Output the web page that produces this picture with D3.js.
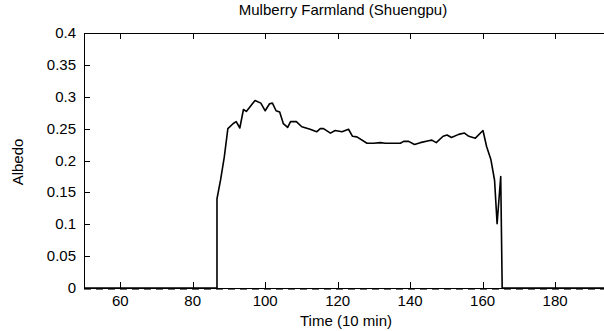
<!DOCTYPE html>
<html>
<head>
<meta charset="utf-8">
<script src="https://cdn.jsdelivr.net/npm/d3@7"></script>
<style>
  body { margin: 0; background: #fff; }
  text { font-family: "Liberation Sans", Arial, sans-serif; fill: #000; }
</style>
</head>
<body>
<svg id="chart" width="604" height="331"></svg>
<script>
// Albedo readings (time in 10 min steps)
const times = [50, 86.7, 86.7, 87.7, 88.7, 89.7, 91.2, 92, 93, 94, 94.8, 96.2, 97.2, 98.8, 100,
  101.2, 102, 103, 104, 105, 106.2, 107, 108.6, 110.1, 112.4, 114.2, 115.2, 116.1, 118, 119.3,
  121.2, 123, 124.1, 125.3, 128.1, 129.9, 131.8, 133.1, 137.3, 138.2, 139.6, 141.2, 142.8,
  145.1, 146, 147.2, 149.1, 150.2, 151.4, 153.4, 155, 156.2, 158, 160.1, 161.1, 162.3, 163.3,
  164, 165, 165.4, 194];
const albedo = [0, 0, 0.14, 0.17, 0.205, 0.25, 0.258, 0.261, 0.251, 0.28, 0.277, 0.287, 0.294, 0.29, 0.278,
  0.289, 0.29, 0.278, 0.276, 0.258, 0.252, 0.261, 0.261, 0.253, 0.249, 0.245, 0.25, 0.25, 0.243, 0.247,
  0.245, 0.249, 0.238, 0.237, 0.227, 0.227, 0.228, 0.227, 0.227, 0.23, 0.23, 0.225, 0.228,
  0.231, 0.232, 0.228, 0.238, 0.24, 0.236, 0.241, 0.243, 0.238, 0.235, 0.247, 0.222, 0.201, 0.169,
  0.101, 0.175, 0, 0];

const xTicks = [60, 80, 100, 120, 140, 160, 180];
const yTicks = [0, 0.05, 0.1, 0.15, 0.2, 0.25, 0.3, 0.35, 0.4];
const yTickLabels = ["0", "0.05", "0.1", "0.15", "0.2", "0.25", "0.3", "0.35", "0.4"];

const data = times.map((t, i) => ({ t: t, v: albedo[i] }));

const plotLeft = 84, plotRight = 604, plotTop = 33, plotBottom = 288;

var xScale = d3.scaleLinear().domain([50, 193.5]).range([plotLeft, plotRight]);
var yScale = d3.scaleLinear().domain([0, 0.4]).range([plotBottom, plotTop]);

const svg = d3.select("#chart");

// frame
svg.append("path")
  .attr("d", `M${plotRight + 1},${plotTop + 0.5}H${plotLeft + 0.5}V${plotBottom + 0.5}H${plotRight + 1}`)
  .attr("fill", "none")
  .attr("stroke", "#000");

// dashed zero line on the axis
svg.append("line")
  .attr("x1", plotLeft).attr("x2", plotRight)
  .attr("y1", plotBottom + 1.5).attr("y2", plotBottom + 1.5)
  .attr("stroke", "#666")
  .attr("stroke-dasharray", "7,5");

// x ticks (inward, bottom and top)
xTicks.forEach((d) => {
  const x = Math.round(xScale(d)) + 0.5;
  svg.append("line").attr("x1", x).attr("x2", x).attr("y1", plotBottom).attr("y2", plotBottom - 6).attr("stroke", "#000");
  svg.append("line").attr("x1", x).attr("x2", x).attr("y1", plotTop).attr("y2", plotTop + 6).attr("stroke", "#000");
  svg.append("text")
    .attr("x", xScale(d)).attr("y", 306)
    .attr("text-anchor", "middle")
    .style("font-size", "15px")
    .text(d);
});

// y ticks (inward)
yTicks.forEach((d, i) => {
  const y = Math.round(yScale(d)) + 0.5;
  svg.append("line").attr("x1", plotLeft).attr("x2", plotLeft + 6).attr("y1", y).attr("y2", y).attr("stroke", "#000");
  svg.append("text")
    .attr("x", 76).attr("y", yScale(d) + 5)
    .attr("text-anchor", "end")
    .style("font-size", "15px")
    .text(yTickLabels[i]);
});

// data line
svg.append("path")
  .datum(data)
  .attr("fill", "none")
  .attr("stroke", "#000")
  .attr("stroke-width", 1.6)
  .attr("stroke-linejoin", "round")
  .attr("d", d3.line().x((d) => xScale(d.t)).y((d) => yScale(d.v)));

// title and axis labels
svg.append("text")
  .attr("x", 343).attr("y", 15)
  .attr("text-anchor", "middle")
  .style("font-size", "15px")
  .text("Mulberry Farmland (Shuengpu)");

svg.append("text")
  .attr("x", 346).attr("y", 326)
  .attr("text-anchor", "middle")
  .style("font-size", "15px")
  .text("Time (10 min)");

svg.append("text")
  .attr("transform", "translate(23,162) rotate(-90)")
  .attr("text-anchor", "middle")
  .style("font-size", "15px")
  .text("Albedo");
</script>
</body>
</html>
